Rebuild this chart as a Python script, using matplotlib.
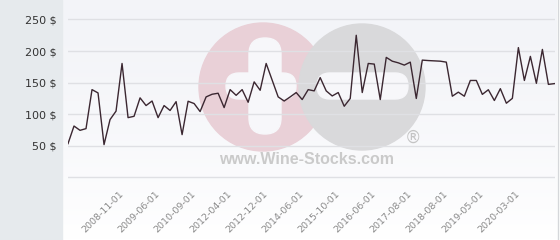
import matplotlib.pyplot as plt
import numpy as np
from matplotlib.patches import Circle, FancyBboxPatch, Rectangle

# price per point (equally spaced entries)
prices = [53.5, 81.4, 74.6, 77.3, 139, 133.8, 52, 91.6, 105, 180.4,
          94.7, 96.8, 126, 113.8, 121, 94.7, 113.8, 106, 120, 67.8,
          120.6, 117, 104.3, 127.5, 131.7, 133.3, 110.6, 139, 130, 139,
          119, 151.3, 138, 180.4, 154, 127.5, 121, 127.5, 134.4, 123.3,
          139, 137, 158, 137, 129, 134.4, 112.7, 125, 225, 134.4,
          180.4, 179.4, 123.3, 190, 184, 181.4, 177.8, 182.5, 125, 185.7,
          185, 184.5, 184, 182.5, 128.6, 135, 128.6, 153.5, 153.5, 131.5,
          138.8, 121.8, 140.5, 117.5, 125.2, 205.5, 153.5, 191.6, 149, 202.6,
          147.3, 148.5]
date_labels = ['2008-11-01', '2009-06-01', '2010-09-01', '2012-04-01',
               '2012-12-01', '2014-06-01', '2015-10-01', '2016-06-01',
               '2017-08-01', '2018-08-01', '2019-05-01', '2020-03-01']
label_idx = [9, 15, 21, 27, 33, 39, 45, 51, 57, 63, 69, 75]
y_ticks = [0, 50, 100, 150, 200, 250]
y_labels = ['', '50 $', '100 $', '150 $', '200 $', '250 $']


def draw_background(fig):
    # pixel-coordinate layer for panel, gradient and watermark
    bg = fig.add_axes([0, 0, 1, 1], zorder=0)
    bg.set_xlim(0, 560)
    bg.set_ylim(240, 0)
    bg.axis('off')
    bg.add_patch(Rectangle((0, 0), 62, 240, color='#e6eaed'))
    grad = np.linspace(0, 1, 100).reshape(-1, 1)
    top = np.array([0.953, 0.957, 0.973])
    bottom = np.array([1.0, 1.0, 1.0])
    img = top + (bottom - top) * grad[:, :, None] ** 1.5
    bg.imshow(img, extent=(63, 557, 240, 0), aspect='auto')
    bg.plot([557.5, 557.5], [0, 240], color='#d5d7da', lw=1)

    # watermark logo
    bg.add_patch(Circle((263, 87), 64, color='#e9d0d7'))
    bg.add_patch(Circle((362, 87), 63, color='#d9d9db'))
    bg.add_patch(FancyBboxPatch((226, 73), 70, 26, boxstyle='round,pad=0,rounding_size=13',
                                color='#f7f7fa'))
    bg.add_patch(FancyBboxPatch((249, 38), 32, 96, boxstyle='round,pad=0,rounding_size=16',
                                color='#f7f7fa'))
    bg.add_patch(FancyBboxPatch((317, 73), 91, 26, boxstyle='round,pad=0,rounding_size=13',
                                color='#f7f7fa'))
    bg.text(413, 138, '®', ha='center', va='center', fontsize=12, color='#c4c4c4')
    bg.text(307, 160, 'www.Wine-Stocks.com', ha='center', va='center',
            fontsize=11.5, fontweight='bold', color='#cacaca', family='Liberation Sans')


def get_chart():
    fig = plt.figure(figsize=(5.6, 2.4), dpi=100)
    draw_background(fig)

    ax = fig.add_axes([68 / 560, 1 - 190 / 240, 487 / 560, 185 / 240], zorder=1)
    ax.patch.set_alpha(0)
    x = np.arange(len(prices))
    ax.plot(x, prices, color='#3b2731', lw=1)

    ax.set_xlim(0, 81.1)
    ax.set_ylim(-19.8, 272.9)
    ax.set_yticks(y_ticks, y_labels)
    ax.set_xticks(label_idx, date_labels)
    ax.grid(axis='y', color='#dfe0e4', lw=1)
    ax.set_axisbelow(True)
    for s in ax.spines.values():
        s.set_visible(False)
    ax.tick_params(axis='y', length=0, pad=8, labelsize=8, labelcolor='#333333')
    ax.tick_params(axis='x', length=0, pad=2, labelsize=6.8, labelcolor='#8a8a8a')
    for lbl in ax.get_xticklabels():
        lbl.set_rotation(45)
        lbl.set_ha('right')
        lbl.set_va('center')
        lbl.set_rotation_mode('anchor')

    fig.savefig('out.png', dpi=100)


if __name__ == '__main__':
    get_chart()
